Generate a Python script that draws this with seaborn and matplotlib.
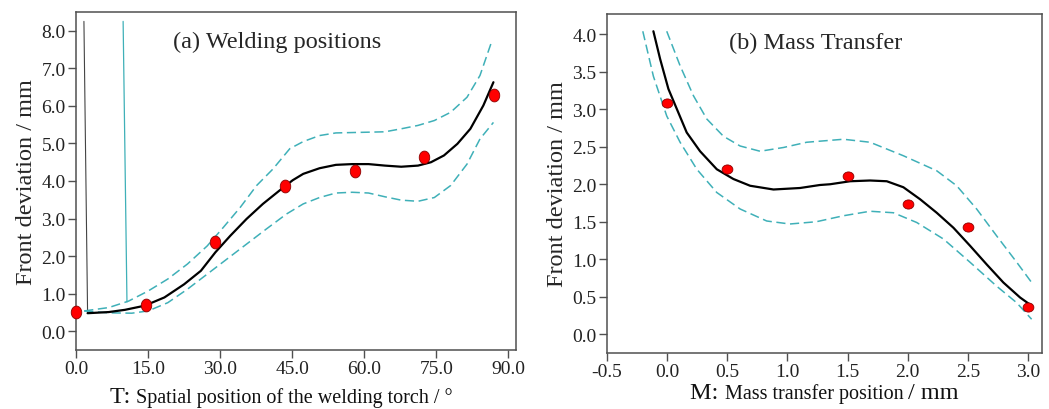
import numpy as np
import matplotlib
matplotlib.use("Agg")
import matplotlib.pyplot as plt
import seaborn as sns
from matplotlib.path import Path
from matplotlib.transforms import Affine2D
from matplotlib.offsetbox import TextArea, HPacker, AnchoredOffsetbox

# (a) welding positions
a_pts_x = [0.0, 14.5, 29.0, 43.5, 58.0, 72.5, 87.0]
a_pts_y = [0.50, 0.69, 2.37, 3.86, 4.26, 4.63, 6.30]
a_fit_x = [2.4, 6.8, 10.2, 14.3, 18.4, 22.5, 26.0, 29.0, 32.1, 35.5, 38.9, 42.3, 45.1, 47.3, 50.7,
           54.1, 57.5, 60.9, 64.3, 67.7, 71.2, 73.9, 76.6, 79.4, 82.1, 84.8, 86.9]
a_fit_y = [0.48, 0.51, 0.57, 0.68, 0.90, 1.25, 1.61, 2.10, 2.54, 2.99, 3.39, 3.74, 4.02, 4.19, 4.34,
           4.43, 4.45, 4.45, 4.41, 4.38, 4.41, 4.50, 4.68, 4.99, 5.39, 6.01, 6.63]
a_up_x = [1.7, 6.8, 10.9, 15.0, 19.1, 23.2, 27.3, 30.7, 34.2, 37.6, 41.0, 44.5, 47.3, 50.7, 54.1,
          57.5, 64.3, 67.7, 71.2, 74.6, 78.0, 81.4, 84.1, 86.5]
a_up_y = [0.54, 0.63, 0.80, 1.07, 1.39, 1.79, 2.27, 2.77, 3.30, 3.88, 4.32, 4.86, 5.05, 5.21, 5.28,
          5.29, 5.31, 5.39, 5.48, 5.61, 5.83, 6.23, 6.81, 7.70]
a_lo_x = [1.7, 6.8, 11.6, 15.0, 19.1, 23.2, 27.3, 31.4, 35.5, 39.6, 43.8, 47.3, 50.7, 54.1, 57.5,
          60.9, 64.3, 67.7, 71.2, 74.6, 78.0, 81.4, 84.1, 86.9]
a_lo_y = [0.54, 0.49, 0.48, 0.54, 0.76, 1.12, 1.52, 1.92, 2.32, 2.72, 3.12, 3.39, 3.56, 3.68, 3.70,
          3.68, 3.58, 3.49, 3.46, 3.56, 3.88, 4.45, 5.12, 5.56]
a_spike_k_x = [1.64, 2.4]
a_spike_k_y = [8.25, 0.48]
a_spike_c_x = [9.8, 10.6]
a_spike_c_y = [8.25, 0.78]
a_xticks = [0, 15, 30, 45, 60, 75, 90]
a_yticks = [0, 1, 2, 3, 4, 5, 6, 7, 8]

# (b) mass transfer
b_pts_x = [0.0, 0.5, 1.5, 2.0, 2.5, 3.0]
b_pts_y = [3.09, 2.21, 2.11, 1.73, 1.43, 0.36]
b_fit_x = [-0.114, -0.058, 0.011, 0.163, 0.274, 0.413, 0.551, 0.69, 0.884, 1.105, 1.27, 1.355, 1.521,
           1.687, 1.826, 1.964, 2.103, 2.241, 2.38, 2.518, 2.657, 2.795, 2.934, 3.03]
b_fit_y = [4.04, 3.67, 3.27, 2.69, 2.44, 2.20, 2.07, 1.98, 1.93, 1.95, 1.99, 2.00, 2.04,
           2.05, 2.04, 1.96, 1.80, 1.62, 1.42, 1.18, 0.93, 0.69, 0.49, 0.38]
b_up_x = [-0.003, 0.108, 0.219, 0.33, 0.468, 0.607, 0.773, 0.967, 1.16, 1.466, 1.687, 1.964, 2.241,
          2.407, 2.573, 2.74, 2.906, 3.03]
b_up_y = [4.04, 3.58, 3.18, 2.87, 2.64, 2.51, 2.44, 2.49, 2.56, 2.60, 2.56, 2.38, 2.18,
          1.98, 1.67, 1.31, 0.96, 0.69]
b_lo_x = [-0.202, -0.114, -0.003, 0.108, 0.247, 0.413, 0.607, 0.828, 1.02, 1.24, 1.466, 1.687, 1.881,
          2.075, 2.297, 2.518, 2.74, 2.906, 3.03]
b_lo_y = [4.04, 3.44, 2.91, 2.56, 2.20, 1.89, 1.67, 1.51, 1.47, 1.50, 1.58, 1.64, 1.62,
          1.49, 1.27, 0.96, 0.64, 0.42, 0.20]
b_xticks = [-0.5, 0.0, 0.5, 1.0, 1.5, 2.0, 2.5, 3.0]
b_yticks = [0.0, 0.5, 1.0, 1.5, 2.0, 2.5, 3.0, 3.5, 4.0]

sns.set_style("ticks")
plt.rcParams["font.family"] = ["Liberation Serif", "DejaVu Serif"]

CYAN = "#3fb0b8"
SPINE = "#505050"
DASH = (0, (6, 3))

fig = plt.figure(figsize=(10.49, 4.10), dpi=100)
ax1 = fig.add_axes([0.0725, 0.1439, 0.4194, 0.8244])
ax2 = fig.add_axes([0.5786, 0.1366, 0.4147, 0.8268])

ell_tall = Path.unit_circle().transformed(Affine2D().scale(0.82, 1.0))
ell_wide = Path.unit_circle().transformed(Affine2D().scale(1.0, 0.85))

# panel a
sns.lineplot(x=a_spike_k_x, y=a_spike_k_y, sort=False, estimator=None, ax=ax1, color="#444444", lw=0.8)
sns.lineplot(x=a_spike_c_x, y=a_spike_c_y, sort=False, estimator=None, ax=ax1, color=CYAN, lw=0.9)
sns.lineplot(x=a_up_x, y=a_up_y, sort=False, estimator=None, ax=ax1, color=CYAN, lw=1.1, linestyle=DASH)
sns.lineplot(x=a_lo_x, y=a_lo_y, sort=False, estimator=None, ax=ax1, color=CYAN, lw=1.1, linestyle=DASH)
sns.lineplot(x=a_fit_x, y=a_fit_y, sort=False, estimator=None, ax=ax1, color="black", lw=1.6)
sns.scatterplot(x=a_pts_x, y=a_pts_y, ax=ax1, marker=ell_tall, s=85, color="#ff0000",
                edgecolor="#8b0000", linewidth=0.6, zorder=5, clip_on=False)
ax1.set_xlim(0, 91.6)
ax1.set_ylim(-0.5, 8.5)
ax1.set_xticks(a_xticks)
ax1.set_xticklabels([f"{v:.1f}" for v in a_xticks])
ax1.set_yticks(a_yticks)
ax1.set_yticklabels([f"{v:.1f}" for v in a_yticks])
ax1.text(0.457, 0.914, "(a) Welding positions", transform=ax1.transAxes,
         ha="center", va="center", fontsize=17.5)

# panel b
sns.lineplot(x=b_up_x, y=b_up_y, sort=False, estimator=None, ax=ax2, color=CYAN, lw=1.1, linestyle=DASH)
sns.lineplot(x=b_lo_x, y=b_lo_y, sort=False, estimator=None, ax=ax2, color=CYAN, lw=1.1, linestyle=DASH)
sns.lineplot(x=b_fit_x, y=b_fit_y, sort=False, estimator=None, ax=ax2, color="black", lw=1.6)
sns.scatterplot(x=b_pts_x, y=b_pts_y, ax=ax2, marker=ell_wide, s=60, color="#ff0000",
                edgecolor="#8b0000", linewidth=0.6, zorder=5, clip_on=False)
ax2.set_xlim(-0.5, 3.116)
ax2.set_ylim(-0.25, 4.27)
ax2.set_xticks(b_xticks)
ax2.set_xticklabels([f"{v:.1f}" for v in b_xticks])
ax2.set_yticks(b_yticks)
ax2.set_yticklabels([f"{v:.1f}" for v in b_yticks])
ax2.text(0.48, 0.917, "(b) Mass Transfer", transform=ax2.transAxes,
         ha="center", va="center", fontsize=17.5)

for ax in (ax1, ax2):
    for sp in ax.spines.values():
        sp.set_visible(True)
        sp.set_color(SPINE)
        sp.set_linewidth(1.1)
    ax.tick_params(axis="both", direction="out", length=6, width=1.0, color=SPINE,
                   labelsize=14, pad=1.5, labelcolor="#222222")
    ax.tick_params(top=False, right=False)
    ax.set_ylabel("Front deviation / mm", fontsize=17.5, labelpad=3)
    ax.set_xlabel("")


def pieces_label(parts, x, y):
    boxes = [TextArea(t, textprops=dict(fontsize=fs, color="#111111")) for t, fs in parts]
    pack = HPacker(children=boxes, align="baseline", pad=0, sep=0)
    anc = AnchoredOffsetbox(loc="lower center", child=pack, frameon=False, pad=0, borderpad=0,
                            bbox_to_anchor=(x, y), bbox_transform=fig.transFigure)
    fig.add_artist(anc)


pieces_label([("T: ", 17.5), ("Spatial position of the welding torch / °", 14.5)], 0.268, 0.005)
pieces_label([("M: ", 17.5), ("Mass transfer position ", 14.5), ("/ mm", 17.5)], 0.786, 0.015)

fig.savefig("out.png", dpi=100)
